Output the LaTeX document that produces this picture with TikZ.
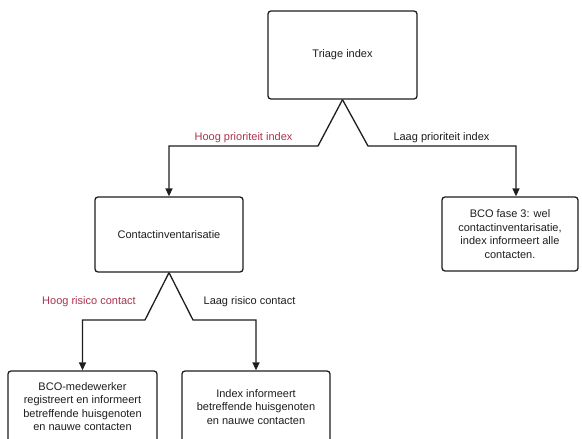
\documentclass[tikz,border=0pt]{standalone}
\usepackage{fontspec}
\setmainfont{Liberation Sans}
\usetikzlibrary{arrows.meta}
\definecolor{redlab}{RGB}{172,52,78}
\definecolor{ink}{RGB}{30,30,30}
\begin{document}
\begin{tikzpicture}[x=1pt,y=-1pt,
  box/.style={draw=ink,line width=1.3pt,rounded corners=3pt,align=center,
    font=\fontsize{11}{13.5}\selectfont,text=ink,inner sep=2pt},
  conn/.style={draw=ink,line width=1.3pt,-{Triangle[length=8pt,width=7pt]}},
  lab/.style={font=\fontsize{11}{13.5}\selectfont,text=ink},
  redl/.style={font=\fontsize{11}{13.5}\selectfont,text=redlab}]
\clip (0,0) rectangle (582,439);
\fill[white] (0,0) rectangle (582,439);
\node[box,minimum width=149pt,minimum height=88pt] (triage) at (342.5,55) {Triage index};
\node[box,minimum width=148pt,minimum height=75pt] (contact) at (169,234.5) {Contactinventarisatie};
\node[box,minimum width=136pt,minimum height=74pt] (fase) at (510,234) {BCO fase 3: wel\\contactinventarisatie,\\index informeert alle\\contacten.};
\node[box,minimum width=149pt,minimum height=71pt] (bco) at (82.5,406.5) {BCO-medewerker\\registreert en informeert\\betreffende huisgenoten\\en nauwe contacten};
\node[box,minimum width=148pt,minimum height=72pt] (idx) at (256,407) {Index informeert\\betreffende huisgenoten\\en nauwe contacten};
\coordinate (t1) at (318,146);
\coordinate (t2) at (169,146);
\coordinate (t3) at (368,146);
\coordinate (t4) at (516,146);
\coordinate (c1) at (145,320);
\coordinate (c2) at (82.5,320);
\coordinate (c3) at (193,320);
\coordinate (c4) at (256,320);
\draw[conn] (triage.south) -- (t1) -- (t2) -- (contact.north);
\draw[conn] (triage.south) -- (t3) -- (t4) -- (t4 |- fase.north);
\draw[conn] (contact.south) -- (c1) -- (c2) -- (bco.north);
\draw[conn] (contact.south) -- (c3) -- (c4) -- (idx.north);
\node[redl] (l1) at (243.5,138) {Hoog prioriteit index};
\node[lab] (l2) at (441.5,138) {Laag prioriteit index};
\node[redl] (l3) at (89,302) {Hoog risico contact};
\node[lab] (l4) at (249.5,302) {Laag risico contact};
\end{tikzpicture}
\end{document}
